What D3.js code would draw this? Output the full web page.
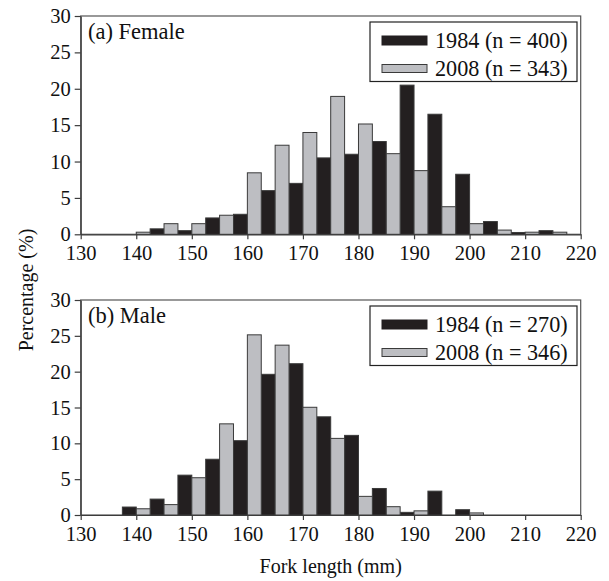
<!DOCTYPE html>
<html>
<head>
<meta charset="utf-8">
<script src="https://cdn.jsdelivr.net/npm/d3@7"></script>
<style>
  html, body { margin: 0; padding: 0; background: #fff; }
  svg { display: block; font-family: "Liberation Serif", "Times New Roman", serif; }
</style>
</head>
<body>
<svg id="chart" width="609" height="581"></svg>
<script>
// Length classes (mm, class mid-points)
const lengthClasses = [140, 145, 150, 155, 160, 165, 170, 175, 180, 185, 190, 195, 200, 205, 210, 215];

// Percentage of fish in each class
const female1984 = [0, 0.75, 0.5, 2.25, 2.75, 6.0, 7.0, 10.5, 11.0, 12.75, 20.5, 16.5, 8.25, 1.75, 0.25, 0.5];
const female2008 = [0.29, 1.46, 1.46, 2.62, 8.45, 12.24, 13.99, 18.95, 15.16, 11.08, 8.75, 3.79, 1.46, 0.58, 0.29, 0.29];
const male1984   = [1.11, 2.22, 5.56, 7.78, 10.37, 19.63, 21.11, 13.7, 11.11, 3.7, 0.37, 3.33, 0.74, 0, 0, 0];
const male2008   = [0.87, 1.45, 5.2, 12.72, 25.14, 23.7, 15.03, 10.69, 2.6, 1.16, 0.58, 0, 0.29, 0, 0, 0];

const xTicks = [130, 140, 150, 160, 170, 180, 190, 200, 210, 220];
const yTicks = [0, 5, 10, 15, 20, 25, 30];

const panels = [
  { title: "(a) Female", a: female1984, b: female2008, legA: "1984 (n = 400)", legB: "2008 (n = 343)", top: 16, bottom: 234.3 },
  { title: "(b) Male",   a: male1984,   b: male2008,   legA: "1984 (n = 270)", legB: "2008 (n = 346)", top: 300, bottom: 515 }
];

const colA = "#231f20", colB = "#bdbec2", stroke = "#3a3a3a", axisCol = "#3c3c3c";
const left = 80.7, right = 580.7;
const halfClass = 2.5;

const svg = d3.select("#chart");
const x = d3.scaleLinear().domain([130, 220]).range([left, right]);

panels.forEach(p => {
  const y = d3.scaleLinear().domain([0, 30]).range([p.bottom, p.top]);
  const g = svg.append("g");

  // frame
  g.append("rect")
    .attr("x", left).attr("y", p.top)
    .attr("width", right - left).attr("height", p.bottom - p.top)
    .attr("fill", "none").attr("stroke", "#555").attr("stroke-width", 1.2);

  const rows = lengthClasses.map((c, i) => ({ c, a: p.a[i], b: p.b[i] }));

  // 1984 bars sit left of the class mid-point, 2008 bars to its right
  g.selectAll(".barA").data(rows.filter(d => d.a > 0)).join("rect")
    .attr("x", d => x(d.c - halfClass))
    .attr("width", d => x(d.c) - x(d.c - halfClass))
    .attr("y", d => y(d.a))
    .attr("height", d => y(0) - y(d.a))
    .attr("fill", colA).attr("stroke", stroke).attr("stroke-width", 1);

  g.selectAll(".barB").data(rows.filter(d => d.b > 0)).join("rect")
    .attr("x", d => x(d.c))
    .attr("width", d => x(d.c + halfClass) - x(d.c))
    .attr("y", d => y(d.b))
    .attr("height", d => y(0) - y(d.b))
    .attr("fill", colB).attr("stroke", stroke).attr("stroke-width", 1);

  // axes
  const xAxis = g.append("g").attr("transform", `translate(0,${p.bottom})`)
    .call(d3.axisBottom(x).tickValues(xTicks).tickSize(5).tickSizeOuter(0).tickPadding(6));
  const yAxis = g.append("g").attr("transform", `translate(${left},0)`)
    .call(d3.axisLeft(y).tickValues(yTicks).tickSize(6).tickSizeOuter(0).tickPadding(4));
  [xAxis, yAxis].forEach(ax => {
    ax.select(".domain").attr("stroke", axisCol).attr("stroke-width", 1.2);
    ax.selectAll(".tick line").attr("stroke", axisCol).attr("stroke-width", 1.2);
    ax.selectAll(".tick text").attr("fill", "#111")
      .style("font-family", "'Liberation Serif', serif").style("font-size", "20.5px");
  });

  // panel title
  g.append("text").attr("x", 88).attr("y", p.top + 22.5)
    .attr("font-size", 22.5).attr("fill", "#111").text(p.title);

  // legend
  const lx = 370, ly = p.top + 6;
  g.append("rect").attr("x", lx).attr("y", ly).attr("width", 207).attr("height", 59.5)
    .attr("fill", "#fff").attr("stroke", "#222").attr("stroke-width", 1.2);
  g.append("rect").attr("x", lx + 12).attr("y", ly + 14).attr("width", 45).attr("height", 9)
    .attr("fill", colA).attr("stroke", colA);
  g.append("rect").attr("x", lx + 12).attr("y", ly + 42.5).attr("width", 45).attr("height", 8)
    .attr("fill", colB).attr("stroke", stroke);
  g.append("text").attr("x", lx + 65).attr("y", ly + 25.5).attr("font-size", 22.2).attr("fill", "#111").text(p.legA);
  g.append("text").attr("x", lx + 65).attr("y", ly + 54).attr("font-size", 22.2).attr("fill", "#111").text(p.legB);
});

// axis titles
svg.append("text").attr("x", (left + right) / 2).attr("y", 573)
  .attr("text-anchor", "middle").attr("font-size", 20).attr("fill", "#111").text("Fork length (mm)");
svg.append("text").attr("transform", "translate(33,290) rotate(-90)")
  .attr("text-anchor", "middle").attr("font-size", 20).attr("fill", "#111").text("Percentage (%)");
</script>
</body>
</html>
